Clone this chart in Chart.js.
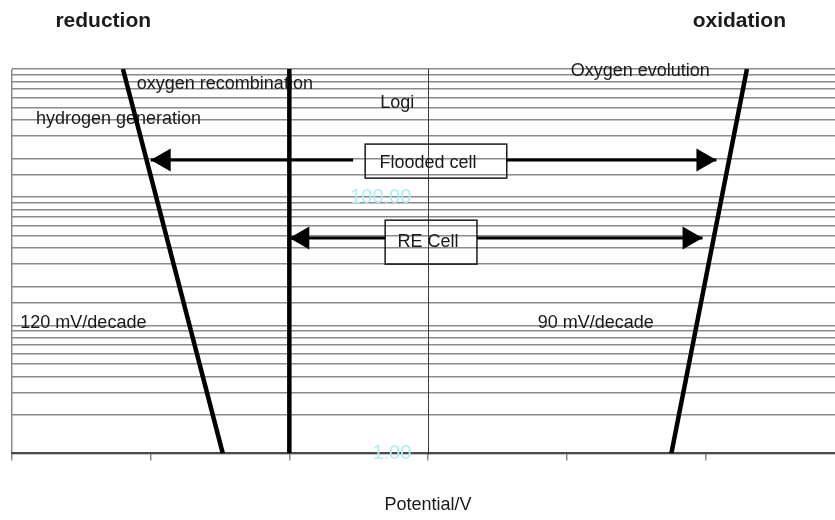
<!DOCTYPE html>
<html>
<head>
<meta charset="utf-8">
<title>Tafel lines</title>
<script src="https://cdn.jsdelivr.net/npm/chart.js@4.4.0/dist/chart.umd.min.js"></script>
<style>
  html, body { margin: 0; padding: 0; background: #fff; overflow: hidden; }
  #wrap { width: 835px; height: 520px; overflow: hidden; }
</style>
</head>
<body>
<div id="wrap"><canvas id="tafel" width="850" height="520"></canvas></div>
<script>
// Potential (V) against log current for each gas reaction
const hydrogenPotential = [-2.2, -1.48];
const hydrogenCurrent = [1000, 1];
const recombPotential = [-1.0, -1.0];
const recombCurrent = [1000, 1];
const oxygenPotential = [2.3, 1.755];
const oxygenCurrent = [1000, 1];

// Operating windows: tip-to-tip span, and where the shaft breaks for its label
const floodedSpan = [-2.0, 2.08];
const floodedGap = [-0.54, 0.568];
const floodedCurrent = 195;
const reSpan = [-1.0, 1.98];
const reGap = [-0.309, 0.353];
const reCurrent = 48;

const potentialTicks = [-3, -2, -1, 0, 1, 2, 3];
const currentLabels = { 1: '1.00', 100: '100.00' };

const FONT = '"Liberation Sans", Arial, Helvetica, sans-serif';
const INK = '#1a1a1a';

// Text placed in data units (potential, current)
const notes = [
    { text: 'oxygen recombination', x: -2.1, y: 698 },
    { text: 'hydrogen generation', x: -2.827, y: 372 },
    { text: 'Logi', x: -0.345, y: 496 },
    { text: 'Oxygen evolution', x: 1.029, y: 881 },
    { text: 'Flooded cell', x: 0, y: 168, align: 'center' },
    { text: 'RE Cell', x: 0, y: 40.7, align: 'center' },
    { text: '120 mV/decade', x: -2.94, y: 9.5 },
    { text: '90 mV/decade', x: 0.791, y: 9.5 }
];

// Frames round the window labels
const boxes = [
    { x0: floodedGap[0] + 0.087, x1: floodedGap[1], y0: 140.7, y1: 259.4 },
    { x0: reGap[0], x1: reGap[1], y0: 30.0, y1: 66.1 }
];

// Headings above the plot
const headers = [
    { text: 'reduction', x: -2.342 },
    { text: 'oxidation', x: 2.245 }
];

function toPoints(xs, ys) {
    return xs.map((x, i) => ({ x: x, y: ys[i] }));
}

// Shaft from tip to tip, with a hole where the label box sits
function shaft(span, gap, y) {
    return [
        { x: span[0], y: y },
        { x: gap[0], y: y },
        { x: (gap[0] + gap[1]) / 2, y: null },
        { x: gap[1], y: y },
        { x: span[1], y: y }
    ];
}

function drawHead(ctx, tipX, tipY, dir) {
    ctx.beginPath();
    ctx.moveTo(tipX, tipY);
    ctx.lineTo(tipX - dir * 20, tipY - 11.5);
    ctx.lineTo(tipX - dir * 20, tipY + 11.5);
    ctx.closePath();
    ctx.fill();
}

const sketch = {
    id: 'sketch',
    beforeDatasetsDraw(chart) {
        const { ctx, chartArea } = chart;
        const xs = chart.scales.x;
        const ys = chart.scales.y;
        ctx.save();
        ctx.fillStyle = INK;
        ctx.textBaseline = 'alphabetic';
        ctx.font = '18px ' + FONT;
        notes.forEach(n => {
            ctx.textAlign = n.align || 'left';
            ctx.fillText(n.text, xs.getPixelForValue(n.x), ys.getPixelForValue(n.y));
        });

        ctx.strokeStyle = INK;
        ctx.lineWidth = 1.5;
        boxes.forEach(b => {
            const l = xs.getPixelForValue(b.x0);
            const r = xs.getPixelForValue(b.x1);
            const t = ys.getPixelForValue(b.y1);
            const btm = ys.getPixelForValue(b.y0);
            ctx.strokeRect(l, t, r - l, btm - t);
        });

        ctx.font = 'bold 21px ' + FONT;
        ctx.textAlign = 'center';
        headers.forEach(h => {
            ctx.fillText(h.text, xs.getPixelForValue(h.x), chartArea.top - 42);
        });
        ctx.restore();
    },
    afterDatasetsDraw(chart) {
        // arrowheads on both ends of every window shaft
        const ctx = chart.ctx;
        ctx.save();
        ctx.fillStyle = '#000';
        chart.data.datasets.forEach((ds, i) => {
            if (!ds.arrow) return;
            const pts = chart.getDatasetMeta(i).data.filter(p => !p.skip);
            const a = pts[0];
            const b = pts[pts.length - 1];
            drawHead(ctx, a.x, a.y, -1);
            drawHead(ctx, b.x, b.y, 1);
        });
        ctx.restore();
    }
};

const tafelLine = { showLine: true, borderColor: '#000', borderWidth: 4.5, pointRadius: 0, fill: false };
const arrowLine = { showLine: true, borderColor: '#000', borderWidth: 3, pointRadius: 0, fill: false, spanGaps: false, arrow: true };

new Chart(document.getElementById('tafel'), {
    type: 'scatter',
    data: {
        datasets: [
            Object.assign({ label: 'hydrogen generation', data: toPoints(hydrogenPotential, hydrogenCurrent) }, tafelLine),
            Object.assign({ label: 'oxygen recombination', data: toPoints(recombPotential, recombCurrent) }, tafelLine),
            Object.assign({ label: 'Oxygen evolution', data: toPoints(oxygenPotential, oxygenCurrent) }, tafelLine),
            Object.assign({ label: 'Flooded cell', data: shaft(floodedSpan, floodedGap, floodedCurrent) }, arrowLine),
            Object.assign({ label: 'RE Cell', data: shaft(reSpan, reGap, reCurrent) }, arrowLine)
        ]
    },
    options: {
        responsive: false,
        animation: false,
        layout: { padding: { left: 12, right: 6, top: 69, bottom: 4 } },
        plugins: {
            legend: { display: false },
            tooltip: { enabled: false }
        },
        scales: {
            x: {
                type: 'linear',
                min: -3,
                max: 3,
                afterBuildTicks: s => { s.ticks = potentialTicks.map(v => ({ value: v })); },
                ticks: { display: false },
                grid: {
                    color: c => c.index === 0 ? '#8a8a8a' : 'rgba(0,0,0,0)',
                    lineWidth: 1.5,
                    tickColor: '#8a8a8a',
                    tickLength: 7,
                    tickWidth: 1.5
                },
                border: { display: true, color: '#4a4a4a', width: 2 },
                title: {
                    display: true,
                    text: 'Potential/V',
                    color: INK,
                    font: { family: FONT, size: 18 },
                    padding: { top: 34, bottom: 0 }
                }
            },
            y: {
                type: 'logarithmic',
                position: { x: 0 },
                min: 1,
                max: 1000,
                ticks: {
                    autoSkip: false,
                    // an axis pinned inside the plot ignores padding, so pad the label text
                    callback: v => currentLabels[v] ? currentLabels[v] + '   ' : '',
                    color: '#aeeef2',
                    font: { family: FONT, size: 20 }
                },
                grid: { color: '#8a8a8a', lineWidth: 1.5, drawTicks: false },
                border: { display: true, color: '#3a3a3a', width: 1 }
            }
        }
    },
    plugins: [sketch]
});
</script>
</body>
</html>
